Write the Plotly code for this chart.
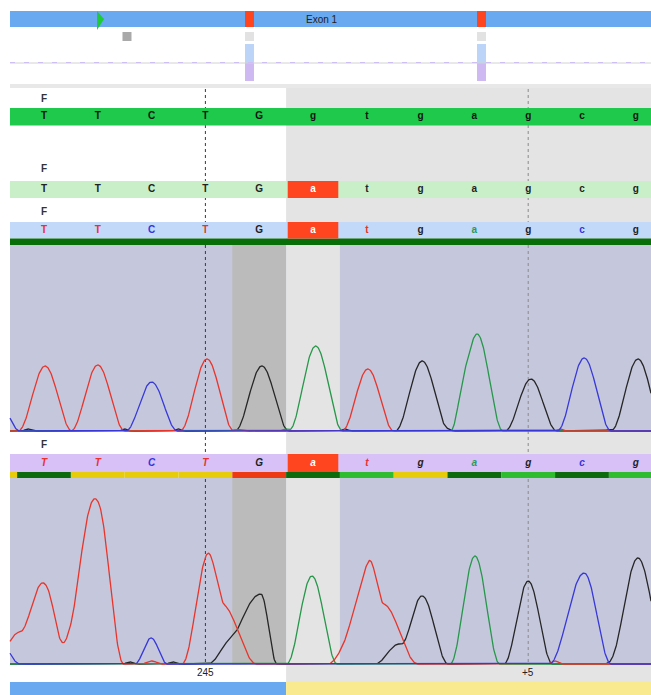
import numpy as np
import plotly.graph_objects as go

# ---------------------------------------------------------------------------
# Data
# ---------------------------------------------------------------------------
# Reference sequence (uppercase = exon, lowercase = intron) and sample calls
reference_bases = ["T", "T", "C", "T", "G", "g", "t", "g", "a", "g", "c", "g"]
sample_bases = ["T", "T", "C", "T", "G", "a", "t", "g", "a", "g", "c", "g"]

# Quality class per base, starting with the partial base left of base 0
quality_classes = ["mid", "high", "mid", "mid", "mid", "low", "high",
                   "good", "mid", "high", "good", "high", "good"]

# Ruler ticks (base index) and their labels
ruler_ticks = [3, 9]
ruler_labels = ["245", "+5"]

# Overview track: positions as a fraction of the read length
overview_start_frac = 0.1357
overview_lowq_frac = [0.1825]
overview_variant_frac = [0.3736, 0.7356]

# Reference trace peaks: channel, centre (base units), height,
# left / right half-width
ref_peak_channel = ["C", "T", "T", "C", "T", "G", "A", "T", "G", "A", "A",
                    "G", "C", "G",
                    "G", "G", "G", "T", "A", "G", "G", "T", "G"]
ref_peak_centre = [-0.85, 0.02, 1.0, 2.0, 3.03, 4.05, 5.05, 6.02, 7.03, 7.75,
                   8.05, 9.05, 10.04, 11.04,
                   -0.3, 1.5, 2.5, 3.6, 4.5, 5.6, 7.5, 9.6, 10.5]
ref_peak_height = [30, 65, 66, 49, 72, 65, 85, 62, 70, 12, 97, 52, 73, 72,
                   2, 2, 2, 1.5, 2, 2, 2, 2, 1.5]
ref_peak_wl = [0.4, 0.5, 0.5, 0.48, 0.5, 0.5, 0.5, 0.48, 0.5, 0.2, 0.48,
               0.48, 0.5, 0.5,
               0.12, 0.12, 0.12, 0.15, 0.15, 0.12, 0.12, 0.12, 0.12]
ref_peak_wr = list(ref_peak_wl)

# Sample trace peaks
smp_peak_channel = ["C", "T", "T", "T", "T", "C", "T", "T", "G", "G", "A",
                    "T", "T", "G", "G", "A", "G", "C", "G",
                    "G", "T", "G", "T", "G"]
smp_peak_centre = [-0.85, -0.45, 0.0, 0.62, 0.98, 1.99, 3.01, 3.3, 3.35,
                   4.03, 4.98, 6.02, 6.3, 6.6, 7.03, 8.01, 9.0, 10.04, 11.04,
                   1.6, 2.0, 2.4, 9.5, 10.55]
smp_peak_height = [25, 32, 80, 50, 163, 26, 70, 60, 12, 70, 88, 60, 60, 20,
                   68, 108, 83, 91, 106,
                   2, 3, 2, 3, 2]
smp_peak_wl = [0.4, 0.5, 0.45, 0.4, 0.5, 0.3, 0.45, 0.7, 0.3, 0.85, 0.47,
               0.75, 0.75, 0.45, 0.4, 0.46, 0.45, 0.65, 0.55,
               0.15, 0.2, 0.15, 0.15, 0.15]
smp_peak_wr = [0.4, 0.5, 0.45, 0.4, 0.5, 0.3, 0.35, 0.65, 0.3, 0.3, 0.47,
               0.3, 0.65, 0.45, 0.48, 0.46, 0.45, 0.5, 0.55,
               0.15, 0.2, 0.15, 0.15, 0.15]

# ---------------------------------------------------------------------------
# Styling / geometry
# ---------------------------------------------------------------------------
W, H = 651, 695
BASE_PX = 53.8          # width of one base in pixels
FIRST_PX = 44.0         # pixel centre of base 0
X_MIN = -FIRST_PX / BASE_PX
X_MAX = (W - FIRST_PX) / BASE_PX
X_LEFT = (10 - FIRST_PX) / BASE_PX   # left edge of the tracks

FONT = "Arial, Liberation Sans, sans-serif"
BASE_COLOR = {"T": "#e8322a", "C": "#3434dc", "G": "#1e1e1e", "A": "#2a9a5a"}
TRACE_COLOR = {"T": "#e8352b", "C": "#3838d8", "G": "#262626", "A": "#27974a"}
QUAL_COLOR = {"high": "#0d6b0d", "good": "#2fbd2f", "mid": "#e6cc0a",
              "low": "#ee3a12"}

BLUE = "#69a9ef"
RED_BOX = "#ff4420"
LIGHT_GRAY = "#e4e4e4"
LAVENDER = "#c5c8dd"
DARK_GRAY = "#bbbbbb"

n = len(reference_bases)
exon_end = max(i for i, b in enumerate(reference_bases) if b.isupper()) + 0.5
mismatch = [i for i in range(n) if reference_bases[i].lower() != sample_bases[i].lower()]
low_q = [i - 1 for i, q in enumerate(quality_classes) if q == "low"]

shapes = []
annotations = []


def rect(x0, x1, y0, y1, color, xref="x"):
    shapes.append(dict(type="rect", xref=xref, yref="y", x0=x0, x1=x1,
                       y0=y0, y1=y1, fillcolor=color, line=dict(width=0),
                       layer="below"))


def ov(f):
    """overview fraction -> paper x"""
    return (10 + f * (W - 10)) / W


# ---------------------------------------------------------------------------
# Overview track
# ---------------------------------------------------------------------------
rect(10 / W, 1, 11, 27, BLUE, xref="paper")
for f in overview_variant_frac:
    rect(ov(f) - 4.5 / W, ov(f) + 4.5 / W, 11, 27, RED_BOX, xref="paper")
    rect(ov(f) - 4.5 / W, ov(f) + 4.5 / W, 32, 41, "#e2e2e2", xref="paper")
    rect(ov(f) - 4.5 / W, ov(f) + 4.5 / W, 44, 63, "#bcd4f8", xref="paper")
    rect(ov(f) - 4.5 / W, ov(f) + 4.5 / W, 63, 81, "#cfb9f2", xref="paper")
for f in overview_lowq_frac:
    rect(ov(f) - 4.5 / W, ov(f) + 4.5 / W, 32, 41, "#a9a9a9", xref="paper")
gx = ov(overview_start_frac)
shapes.append(dict(type="path", xref="paper", yref="y",
                   path=f"M {gx},11 L {gx + 7 / W},19 L {gx},30 Z",
                   fillcolor="#1ec93a", line=dict(width=0), layer="below"))
shapes.append(dict(type="line", xref="paper", yref="y", x0=10 / W, x1=1,
                   y0=63, y1=63, line=dict(color="#d2d2d2", width=1),
                   layer="below"))
shapes.append(dict(type="line", xref="paper", yref="y", x0=10 / W, x1=1,
                   y0=62.5, y1=62.5, line=dict(color="#cdbff4", width=1.2,
                                               dash="5px,9px"),
                   layer="below"))
annotations.append(dict(x=322 / W, y=19, xref="paper", yref="y",
                        text="Exon 1", showarrow=False,
                        font=dict(family=FONT, size=10, color="#222")))

# ---------------------------------------------------------------------------
# Backgrounds
# ---------------------------------------------------------------------------
rect(X_LEFT, X_MAX, 84, 88, "#e8e8e8")
rect(exon_end, X_MAX, 88, 682, LIGHT_GRAY)


def panel_bg(y0, y1):
    rect(X_LEFT, X_MAX, y0, y1, LAVENDER)
    for i in low_q:
        rect(i - 0.5, i + 0.5, y0, y1, DARK_GRAY)
    for i in mismatch:
        rect(i - 0.5, i + 0.5, y0, y1, LIGHT_GRAY)


panel_bg(245, 432)
panel_bg(478, 665)

# Dashed position guides
for t, c in zip(ruler_ticks, ["#3a3a3a", "#8a8a8a"]):
    shapes.append(dict(type="line", xref="x", yref="y", x0=t, x1=t,
                       y0=89, y1=664,
                       line=dict(color=c, width=1, dash="3px,3px"),
                       layer="below"))

# ---------------------------------------------------------------------------
# Sequence tracks
# ---------------------------------------------------------------------------
rect(X_LEFT, X_MAX, 108, 125.5, "#1ec94b")
rect(X_LEFT, X_MAX, 181, 198, "#c9efc9")
rect(X_LEFT, X_MAX, 222, 238.5, "#c3d9f9")
rect(X_LEFT, X_MAX, 238.5, 245, "#086e08")
rect(X_LEFT, X_MAX, 454, 472, "#d7c1f7")
for k, q in enumerate(quality_classes):
    i = k - 1
    rect(max(i - 0.5, X_LEFT), min(i + 0.5, X_MAX), 472, 478, QUAL_COLOR[q])
for i in mismatch:
    for y0, y1 in [(181, 198), (222, 238.5), (454, 472)]:
        rect(i - 0.47, i + 0.47, y0, y1, RED_BOX)

# Bottom exon / intron bar
rect(X_LEFT, exon_end, 682, 695, BLUE)
rect(exon_end, X_MAX, 682, 695, "#f9e98f")

fig = go.Figure()

xs = list(range(n))


def letters(y, bases, colors, italic=False):
    fig.add_trace(go.Scatter(
        x=xs, y=[y] * n, mode="text", text=bases, xaxis="x", yaxis="y",
        textfont=dict(family=FONT, size=10, color=colors, weight="bold",
                      style="italic" if italic else "normal"),
        hoverinfo="skip"))


letters(116.5, reference_bases, ["#111"] * n)
row2 = ["#fff" if i in mismatch else "#222" for i in range(n)]
letters(189.5, sample_bases, row2)
row3 = ["#fff" if i in mismatch else BASE_COLOR[b.upper()]
        for i, b in enumerate(sample_bases)]
letters(230, sample_bases, row3)
letters(463, sample_bases, row3, italic=True)

for y in [98, 168, 211.5, 444.5]:
    annotations.append(dict(x=0, y=y, xref="x", yref="y", text="F",
                            showarrow=False,
                            font=dict(family=FONT, size=10, color="#333",
                                      weight="bold")))

for t, lab in zip(ruler_ticks, ruler_labels):
    annotations.append(dict(x=t, y=672.5, xref="x", yref="y", text=lab,
                            showarrow=False,
                            font=dict(family=FONT, size=10, color="#222")))

# ---------------------------------------------------------------------------
# Chromatograms
# ---------------------------------------------------------------------------
grid = np.linspace(X_LEFT, X_MAX, 1400)


def channel_signal(chans, centres, heights, wls, wrs, ch):
    """Sum of raised-cosine peaks (separate left / right widths)."""
    y = np.zeros_like(grid)
    for c, m, h, wl, wr in zip(chans, centres, heights, wls, wrs):
        if c != ch:
            continue
        d = grid - m
        w = np.where(d < 0, wl, wr)
        ad = np.abs(d)
        y += h * np.where(ad < w, np.cos(np.pi * ad / (2 * w)) ** 2, 0.0)
    return y


for axis, data in [("y2", (ref_peak_channel, ref_peak_centre,
                           ref_peak_height, ref_peak_wl, ref_peak_wr)),
                   ("y3", (smp_peak_channel, smp_peak_centre,
                           smp_peak_height, smp_peak_wl, smp_peak_wr))]:
    for ch in ["G", "A", "T", "C"]:
        fig.add_trace(go.Scatter(
            x=grid, y=channel_signal(*data, ch), mode="lines",
            xaxis="x", yaxis=axis,
            line=dict(color=TRACE_COLOR[ch], width=1.3),
            hoverinfo="skip"))

fig.update_layout(
    width=W, height=H,
    margin=dict(l=0, r=0, t=0, b=0),
    paper_bgcolor="white",
    plot_bgcolor="rgba(0,0,0,0)",
    showlegend=False,
    hovermode=False,
    shapes=shapes,
    annotations=annotations,
    xaxis=dict(range=[X_MIN, X_MAX], visible=False, anchor="y"),
    yaxis=dict(range=[H, 0], domain=[0, 1], visible=False),
    yaxis2=dict(range=[-2, 186], domain=[(H - 433) / H, (H - 245) / H],
                anchor="x", visible=False),
    yaxis3=dict(range=[-2, 186], domain=[(H - 666) / H, (H - 478) / H],
                anchor="x", visible=False),
)

fig.write_html("out.html")
